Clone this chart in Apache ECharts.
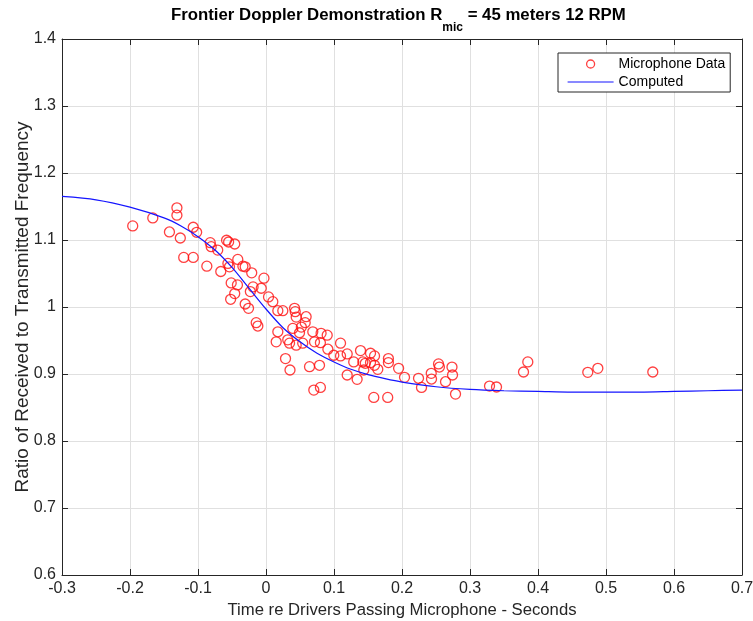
<!DOCTYPE html>
<html>
<head>
<meta charset="utf-8">
<script src="https://cdn.jsdelivr.net/npm/echarts@6/dist/echarts.min.js"></script>
<style>
html,body{margin:0;padding:0;background:#fff;}
#chart{width:753px;height:621px;}
</style>
</head>
<body>
<div id="chart"></div>
<script>
// Microphone data (time in seconds, frequency ratio)
var micX = [-0.196,-0.1665,-0.131,-0.131,-0.142,-0.126,-0.107,-0.102,-0.121,-0.107,
  -0.087,-0.082,-0.0806,-0.071,-0.058,-0.055,-0.046,-0.0665,-0.056,-0.0537,
  -0.0415,-0.034,-0.0306,-0.021,-0.0512,-0.042,-0.046,-0.052,-0.003,-0.019,
  -0.023,-0.007,0.0037,0.010,-0.0306,-0.0257,0.0174,0.0247,0.042,0.043,
  0.0444,0.059,0.0576,-0.0144,-0.012,0.0174,0.0394,0.052,0.0688,0.081,
  0.090,0.015,0.032,0.0346,0.0444,0.054,0.0713,0.080,0.0287,0.0353,
  0.091,0.1096,0.0997,0.1096,0.1194,0.129,0.139,0.1537,0.1596,0.1424,
  0.146,0.1537,0.1596,0.180,0.180,0.195,0.1644,0.1438,0.064,0.0787,
  0.1194,0.134,0.0703,0.080,0.1585,0.179,0.2037,0.2243,0.2287,0.243,
  0.2434,0.2537,0.255,0.2735,0.2743,0.264,0.2787,0.3287,0.339,0.3787,
  0.385,0.4732,0.488,0.5688,0.0493];
var micY = [1.121,1.133,1.148,1.137,1.112,1.103,1.119,1.1115,1.074,1.074,
  1.061,1.096,1.090,1.085,1.0996,1.097,1.094,1.053,1.065,1.060,
  1.071,1.061,1.060,1.051,1.036,1.033,1.020,1.0115,1.043,1.030,
  1.023,1.028,1.015,1.008,1.0045,0.998,0.9945,0.9945,0.998,0.993,
  0.985,0.9855,0.9766,0.9766,0.9716,0.963,0.968,0.970,0.963,0.9607,
  0.958,0.948,0.951,0.946,0.943,0.946,0.948,0.9467,0.923,0.906,
  0.937,0.946,0.928,0.927,0.930,0.918,0.935,0.931,0.927,0.918,
  0.916,0.917,0.913,0.923,0.917,0.9085,0.907,0.906,0.911,0.913,
  0.8985,0.892,0.876,0.880,0.865,0.865,0.895,0.8936,0.880,0.901,
  0.8925,0.915,0.9104,0.9104,0.8985,0.8885,0.870,0.882,0.8806,0.903,
  0.918,0.9025,0.9085,0.903,0.9616];

// Computed curve
var curveX = [-0.3,-0.25,-0.2,-0.15,-0.125,-0.1,-0.075,-0.05,-0.025,0,
  0.025,0.05,0.075,0.1,0.125,0.15,0.175,0.2,0.25,0.3,
  0.35,0.4,0.45,0.5,0.55,0.6,0.65,0.7];
var curveY = [1.165,1.160,1.149,1.133,1.121,1.105,1.085,1.059,1.028,0.997,
  0.969,0.948,0.931,0.918,0.907,0.899,0.893,0.888,0.881,0.877,
  0.875,0.874,0.873,0.873,0.873,0.874,0.875,0.876];

var seriesNames = ['Microphone Data', 'Computed'];
var xTicks = {min: -0.3, max: 0.7, interval: 0.1};
var yTicks = {min: 0.6, max: 1.4, interval: 0.1};

var micData = micX.map(function (x, i) { return [x, micY[i]]; });
var curveData = curveX.map(function (x, i) { return [x, curveY[i]]; });

var FONT = '"Liberation Sans", Arial, Helvetica, sans-serif';
var AX = '#262626';

function axisBase(pos, showLabel, t) {
  return {
    type: 'value', position: pos,
    min: t.min, max: t.max, interval: t.interval,
    axisLine: {show: true, onZero: false, lineStyle: {color: AX, width: 1}},
    axisTick: {show: true, inside: true, length: 6, lineStyle: {color: AX, width: 1}},
    axisLabel: {show: showLabel, color: AX, fontSize: 16, fontFamily: FONT, margin: 6},
    splitLine: {show: showLabel, lineStyle: {color: '#e0e0e0', width: 1}}
  };
}

var xMain = axisBase('bottom', true, xTicks);
xMain.name = 'Time re Drivers Passing Microphone - Seconds';
xMain.nameLocation = 'middle';
xMain.nameGap = 27;
xMain.nameMoveOverlap = false;
xMain.nameTextStyle = {color: AX, fontSize: 16.7, fontFamily: FONT};
var xTop = axisBase('top', false, xTicks);

var yMain = axisBase('left', true, yTicks);
yMain.name = 'Ratio of Received to Transmitted Frequency';
yMain.nameLocation = 'middle';
yMain.nameGap = 30;
yMain.nameMoveOverlap = false;
yMain.nameTextStyle = {color: AX, fontSize: 19, fontFamily: FONT};
var yRight = axisBase('right', false, yTicks);

var chart = echarts.init(document.getElementById('chart'), null, {renderer: 'canvas'});
chart.setOption({
  backgroundColor: '#fff',
  animation: false,
  title: {
    text: '{b|Frontier Doppler Demonstration R}{s|mic}{b| = 45 meters 12 RPM}',
    left: 171, top: 7, padding: 0,
    textStyle: {
      rich: {
        b: {fontSize: 16.8, fontWeight: 'bold', fontFamily: FONT, color: '#000', lineHeight: 20, verticalAlign: 'top'},
        s: {fontSize: 12, fontWeight: 'bold', fontFamily: FONT, color: '#000', lineHeight: 12, verticalAlign: 'top', padding: [15, 0, 0, 0]}
      }
    }
  },
  grid: {left: 62, right: 11, top: 39, bottom: 46, containLabel: false, outerBoundsMode: 'none'},
  legend: {
    data: [
      {name: seriesNames[0], icon: 'circle'},
      {name: seriesNames[1], itemStyle: {opacity: 0}}
    ],
    orient: 'vertical',
    left: 558, top: 53,
    padding: [3, 5, 2, 9],
    itemGap: 2,
    itemWidth: 46, itemHeight: 8,
    itemStyle: {borderColor: 'inherit', borderWidth: 1.3},
    lineStyle: {width: 1.2},
    backgroundColor: '#fff',
    borderColor: AX, borderWidth: 1,
    textStyle: {fontSize: 14, fontFamily: FONT, color: '#000', lineHeight: 16}
  },
  xAxis: [xMain, xTop],
  yAxis: [yMain, yRight],
  series: [
    {
      name: seriesNames[0], type: 'scatter', data: micData,
      symbol: 'circle', symbolSize: 10, z: 2,
      itemStyle: {color: 'rgba(255,255,255,0)', borderColor: '#ff1010', borderWidth: 1.3}
    },
    {
      name: seriesNames[1], type: 'line', data: curveData,
      symbol: 'none', smooth: 0.3, z: 3,
      lineStyle: {color: '#1515ff', width: 1.2},
      itemStyle: {color: '#1515ff'}
    }
  ]
});
</script>
</body>
</html>
